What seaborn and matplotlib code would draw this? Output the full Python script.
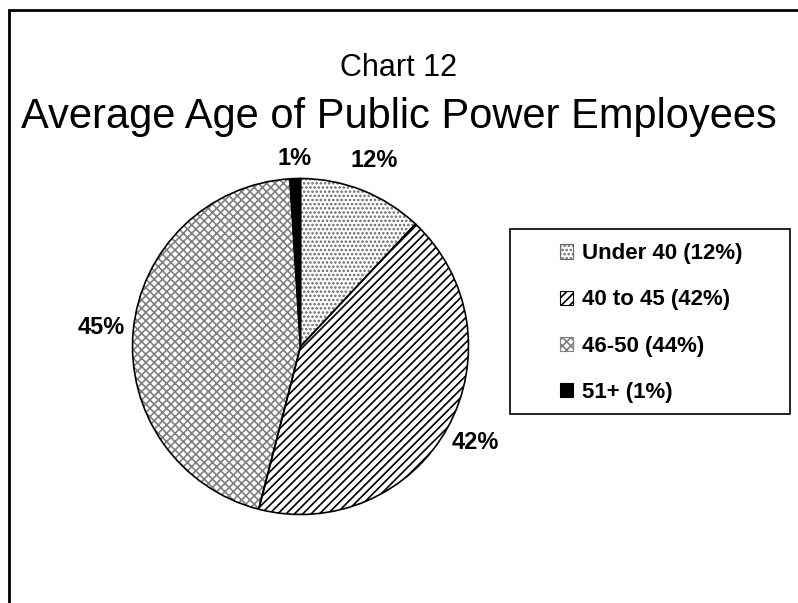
import numpy as np
import pandas as pd
import matplotlib
matplotlib.use('Agg')
import matplotlib.pyplot as plt
import matplotlib.patches as mpatches
import seaborn as sns

# data
groups = ['Under 40', '40 to 45', '46-50', '51+']
shares = [12, 42, 45, 1]
legend_shares = [12, 42, 44, 1]   # legend text in the original says 44% for 46-50
hatches = ['....', '////', 'xxxx', '']
hatch_colors = ['#666666', 'black', '#808080', 'black']
fills = ['white', 'white', 'white', 'black']

df = pd.DataFrame({'group': groups, 'share': shares, 'legend_share': legend_shares})
df['legend_label'] = df['group'] + ' (' + df['legend_share'].astype(str) + '%)'

sns.set_theme(style='white')
plt.rcParams['font.family'] = ['Liberation Sans', 'DejaVu Sans']
plt.rcParams['text.color'] = 'black'
plt.rcParams['hatch.linewidth'] = 1.2

W, H = 798, 603
fig = plt.figure(figsize=(W / 100, H / 100), dpi=100)
fig.patch.set_facecolor('white')

# outer frame (runs off the right and bottom edges like the original)
fig.patches.append(mpatches.Rectangle((9 / W, -0.1), 1.2, 1.1 - 10 / H, fill=False,
                                      lw=2, edgecolor='black', transform=fig.transFigure,
                                      figure=fig))

fig.text(0.5, 1 - 68 / H, 'Chart 12', ha='center', va='center', fontsize=22)
fig.text(0.5, 1 - 128 / H, 'Average Age of Public Power Employees', ha='center',
         va='baseline', fontsize=30)

cx, cy, r = 300.5, 346.5, 168
ax = fig.add_axes([(cx - r) / W, 1 - (cy + r) / H, 2 * r / W, 2 * r / H])

# hatched fills first, then black outlines on top
wedges, _ = ax.pie(df['share'], startangle=90, counterclock=False,
                   colors=fills, wedgeprops=dict(linewidth=0))
for w, h, hc in zip(wedges, hatches, hatch_colors):
    w.set_hatch(h)
    w.set_edgecolor(hc)

_, _, pct = ax.pie(df['share'], startangle=90, counterclock=False,
                   autopct=lambda p: f'{p:.0f}%', pctdistance=1.19,
                   wedgeprops=dict(fill=False, edgecolor='black', linewidth=1.2),
                   textprops=dict(fontsize=17, fontweight='bold', color='black'))
# small slice label sits closer to the rim
x1, y1 = pct[3].get_position()
pct[3].set_position((x1 * 1.12 / 1.19, y1 * 1.12 / 1.19))
ax.set_xlim(-1, 1)
ax.set_ylim(-1, 1)
ax.set_aspect('equal')
ax.axis('off')

handles = [mpatches.Patch(facecolor=f, edgecolor=hc, hatch=h, linewidth=0.8)
           for f, h, hc in zip(fills, hatches, hatch_colors)]
leg = fig.legend(handles, df['legend_label'], loc='center',
                 bbox_to_anchor=(651 / W, 1 - 323 / H), frameon=False,
                 prop=dict(size=16, weight='bold'), handlelength=0.6,
                 handleheight=0.6, handletextpad=0.4, labelspacing=1.13)

# legend box
fig.patches.append(mpatches.Rectangle((510 / W, 1 - 414 / H), 280 / W, 185 / H,
                                      fill=False, lw=1.2, edgecolor='black',
                                      transform=fig.transFigure, figure=fig))

fig.savefig('out.png', dpi=100, facecolor='white')
